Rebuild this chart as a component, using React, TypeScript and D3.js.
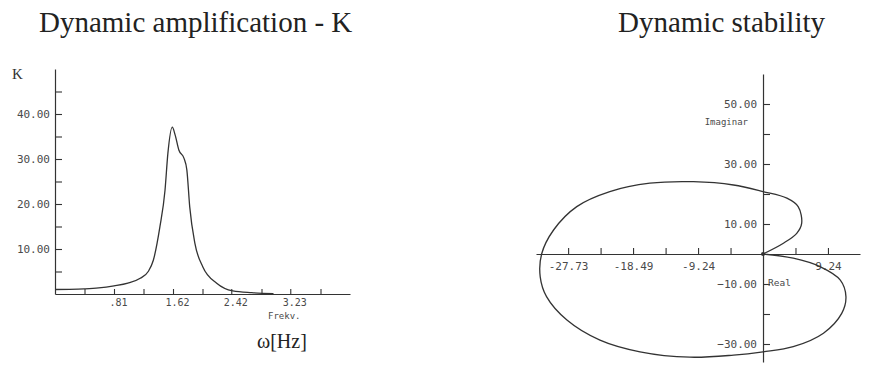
import { useRef, useEffect } from "react";
import * as d3 from "d3";

// Dynamic amplification K(f)
const freq = [0, 0.2, 0.4, 0.6, 0.81, 1.0, 1.17, 1.28, 1.35, 1.44, 1.51, 1.55, 1.61, 1.65, 1.7, 1.77, 1.81, 1.85, 1.92, 2.03, 2.22, 2.44, 2.7, 3.0];
const ampK = [1.0, 1.05, 1.15, 1.35, 1.8, 2.4, 3.5, 5.0, 7.5, 14.9, 23, 31.3, 37.1, 35.3, 32, 30.2, 27.6, 19.3, 11.3, 6, 2.4, 0.7, 0.3, 0.1];
const kTicksMajor = [10, 20, 30, 40];
const kTicksMinor = [5, 15, 25, 35, 45];
const freqTicks = [0.405, 0.81, 1.215, 1.62, 2.025, 2.42, 2.835, 3.23, 3.645];
const freqTickLabels = ["", ".81", "", "1.62", "", "2.42", "", "3.23", ""];

// Nyquist plot (Real, Imaginar)
const reVals = [0, 2.9, 4.8, 5.5, 5.0, 3.4, 0, -4.2, -9.9, -16.1, -21.8, -26.5, -29.8, -31.5, -31.7, -30.8, -27.9, -23.2, -17.5, -10.4, -4.2, 0, 4.3, 8.6, 11.2, 11.8, 11.0, 8.1, 4.3, 0];
const imVals = [0, 3.6, 6.9, 10.2, 15.8, 18.6, 20.8, 23, 24.1, 23.6, 20.8, 15.8, 8, 0, -7.6, -14.2, -22, -28.7, -32.6, -34.4, -33.7, -32.6, -30.9, -26.4, -19.8, -14.2, -8.7, -4.2, -1.4, 0];
const reTicks = [-27.73, -23.11, -18.49, -13.86, -9.24, -4.62, 4.62, 9.24];
const reTickLabels = ["-27.73", "", "-18.49", "", "-9.24", "", "", "9.24"];
const imTicksMajor = [50, 30, 10, -10, -30];
const imTicksMinor = [40, 20, -20];

const W = 869;
const H = 367;
const mono = "DejaVu Sans Mono, monospace";
const serif = "Liberation Serif, serif";
const ink = "#333";
const txt = "#4a4a4a";

export default function App() {
  const svgRef = useRef<SVGSVGElement>(null);

  useEffect(() => {
    if (!svgRef.current) return;
    const svg = d3.select(svgRef.current);
    svg.selectAll("*").remove();

    const styleAxis = (g: any, fontSize: number) => {
      g.select(".domain").attr("stroke", ink).attr("stroke-width", 1.2);
      g.selectAll(".tick line").attr("stroke", ink).attr("stroke-width", 1.1);
      g.selectAll(".tick text").attr("fill", txt).attr("font-family", mono).attr("font-size", fontSize);
    };

    // ---------- Left: dynamic amplification ----------
    svg.append("text").attr("x", 39).attr("y", 32)
      .attr("font-family", serif).attr("font-size", 29).attr("fill", "#222")
      .text("Dynamic amplification - K");

    const x1 = d3.scaleLinear().domain([0, 4.05]).range([55, 350]);
    const y1 = d3.scaleLinear().domain([0, 50]).range([294, 69]);

    const gx1 = svg.append("g").attr("transform", `translate(0,${y1(0)})`)
      .call(d3.axisBottom(x1).tickValues(freqTicks)
        .tickFormat((_, i) => freqTickLabels[i]).tickSizeInner(-5).tickSizeOuter(0).tickPadding(5));
    styleAxis(gx1, 10);
    gx1.selectAll(".tick text").attr("dx", 4);

    const gy1 = svg.append("g").attr("transform", `translate(${x1(0)},0)`)
      .call(d3.axisLeft(y1).tickValues(kTicksMajor)
        .tickFormat(d3.format(".2f")).tickSizeInner(-7).tickSizeOuter(0).tickPadding(5));
    styleAxis(gy1, 11);
    const gy1m = svg.append("g").attr("transform", `translate(${x1(0)},0)`)
      .call(d3.axisLeft(y1).tickValues(kTicksMinor).tickFormat(() => "").tickSizeInner(-7).tickSizeOuter(0));
    styleAxis(gy1m, 11);
    gy1m.select(".domain").remove();

    svg.append("text").attr("x", 12).attr("y", 79)
      .attr("font-family", serif).attr("font-size", 15).attr("fill", "#333").text("K");

    svg.append("text").attr("x", 268).attr("y", 319)
      .attr("font-family", mono).attr("font-size", 9).attr("fill", txt).text("Frekv.");

    svg.append("text").attr("x", 257).attr("y", 348)
      .attr("font-family", serif).attr("font-size", 20).attr("fill", "#222").text("ω[Hz]");

    const ampLine = d3.line<number>()
      .x((_, i) => x1(freq[i]))
      .y(d => y1(d))
      .curve(d3.curveMonotoneX);
    svg.append("path").datum(ampK).attr("d", ampLine)
      .attr("fill", "none").attr("stroke", ink).attr("stroke-width", 1.3);

    // ---------- Right: dynamic stability ----------
    svg.append("text").attr("x", 618).attr("y", 32)
      .attr("font-family", serif).attr("font-size", 29).attr("fill", "#222")
      .text("Dynamic stability");

    const x2 = d3.scaleLinear().domain([-32.3, 13.8]).range([536, 860]);
    const y2 = d3.scaleLinear().domain([-36, 60]).range([362, 74]);

    const gx2 = svg.append("g").attr("transform", `translate(0,${y2(0)})`)
      .call(d3.axisBottom(x2).tickValues(reTicks)
        .tickFormat((_, i) => reTickLabels[i]).tickSizeInner(-6).tickSizeOuter(0).tickPadding(8));
    styleAxis(gx2, 11);

    const gy2 = svg.append("g").attr("transform", `translate(${x2(0)},0)`)
      .call(d3.axisLeft(y2).tickValues(imTicksMajor)
        .tickFormat(d3.format(".2f")).tickSizeInner(-7).tickSizeOuter(0).tickPadding(6));
    styleAxis(gy2, 11);
    const gy2m = svg.append("g").attr("transform", `translate(${x2(0)},0)`)
      .call(d3.axisLeft(y2).tickValues(imTicksMinor).tickFormat(() => "").tickSizeInner(-7).tickSizeOuter(0));
    styleAxis(gy2m, 11);
    gy2m.select(".domain").remove();

    svg.append("text").attr("x", 748).attr("y", 125).attr("text-anchor", "end")
      .attr("font-family", mono).attr("font-size", 9).attr("fill", txt).text("Imaginar");
    svg.append("text").attr("x", 768).attr("y", 286)
      .attr("font-family", mono).attr("font-size", 9.5).attr("fill", txt).text("Real");

    const nyq = d3.line<number>()
      .x(d => x2(d))
      .y((_, i) => y2(imVals[i]))
      .curve(d3.curveCatmullRom.alpha(0.5));
    svg.append("path").datum(reVals).attr("d", nyq)
      .attr("fill", "none").attr("stroke", ink).attr("stroke-width", 1.3);

    svg.append("circle").attr("cx", x2(0)).attr("cy", y2(0)).attr("r", 2).attr("fill", ink);
  }, []);

  return (
    <svg ref={svgRef} width={W} height={H}
      style={{ position: "absolute", left: 0, top: 0, background: "#fff", display: "block" }} />
  );
}
